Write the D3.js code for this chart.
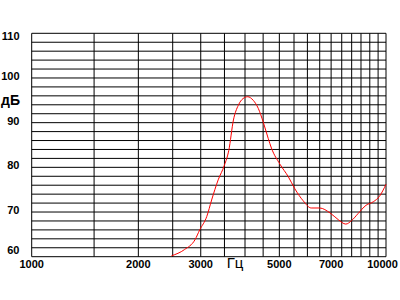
<!DOCTYPE html>
<html>
<head>
<meta charset="utf-8">
<script src="https://cdn.jsdelivr.net/npm/d3@7"></script>
<style>
  html, body { margin: 0; padding: 0; background: #fff; }
  svg { display: block; }
</style>
</head>
<body>
<svg id="chart" width="400" height="300"></svg>
<script>
// Frequency response
const freqs = [2480, 2700, 2890, 2980, 3120, 3220, 3360, 3500, 3600, 3710, 3830, 3950, 4070, 4220, 4360, 4500, 4650, 4750,
    5020, 5300, 5530, 5840, 6150, 6500, 6950, 7330, 7700, 8000, 8350, 8780, 9210, 9580, 10000];
const levels = [60.2, 61.6, 63.8, 66.0, 69.0, 72.7, 77.2, 80.5, 83.8, 90.6, 93.9, 95.4, 95.8, 95.0, 93.2, 90.2, 86.5, 84.3,
    80.7, 77.9, 75.2, 72.5, 70.9, 70.9, 69.8, 68.3, 67.3, 68.1, 69.7, 71.5, 72.3, 73.5, 76.2];

const xTickLabels = [1000, 2000, 3000, 5000, 7000, 10000];
const yTickLabels = [60, 70, 80, 90, 100, 110];
const xGrid = d3.range(1000, 10001, 500);
const yGrid = d3.range(60, 111, 2);

const svg = d3.select('#chart');
const margin = { top: 33.3, right: 14, bottom: 43.3, left: 31.7 };
const width = 400 - margin.left - margin.right;
const height = 300 - margin.top - margin.bottom;

const x = d3.scaleLog().domain([1000, 10000]).range([margin.left, margin.left + width]);
const y = d3.scaleLinear().domain([60, 110]).range([margin.top + height, margin.top]);

// Grid
svg.append('g')
    .selectAll('line')
    .data(yGrid)
    .join('line')
    .attr('x1', x(1000)).attr('x2', x(10000))
    .attr('y1', d => y(d)).attr('y2', d => y(d))
    .attr('stroke', '#000').attr('stroke-width', 1);

svg.append('g')
    .selectAll('line')
    .data(xGrid)
    .join('line')
    .attr('x1', d => x(d)).attr('x2', d => x(d))
    .attr('y1', y(60)).attr('y2', y(110))
    .attr('stroke', '#000').attr('stroke-width', 1);

// Y labels (kept inside the plot height)
svg.append('g')
    .selectAll('text')
    .data(yTickLabels)
    .join('text')
    .attr('x', 19.5)
    .attr('y', d => Math.max(36, Math.min(250, y(d) - 2)) + 4)
    .attr('text-anchor', 'end')
    .attr('font-family', 'Liberation Sans, Arial, sans-serif')
    .attr('font-weight', 'bold')
    .attr('font-size', '11px')
    .text(d => d);

svg.append('text')
    .attr('x', 20)
    .attr('y', 105)
    .attr('text-anchor', 'end')
    .attr('font-family', 'Liberation Sans, Arial, sans-serif')
    .attr('font-weight', 'bold')
    .attr('font-size', '14px')
    .text('дБ');

// X labels
svg.append('g')
    .selectAll('text')
    .data(xTickLabels)
    .join('text')
    .attr('x', d => Math.min(398 - 15.5, x(d)))
    .attr('y', 268)
    .attr('text-anchor', 'middle')
    .attr('font-family', 'Liberation Sans, Arial, sans-serif')
    .attr('font-weight', 'bold')
    .attr('font-size', '11px')
    .text(d => d);

svg.append('text')
    .attr('x', x(3750))
    .attr('y', 268)
    .attr('text-anchor', 'middle')
    .attr('font-family', 'Liberation Sans, Arial, sans-serif')
    .attr('font-size', '15px')
    .text('Гц');

// Response curve
const line = d3.line()
    .x(d => x(d[0]))
    .y(d => y(d[1]))
    .curve(d3.curveMonotoneX);

svg.append('path')
    .datum(d3.zip(freqs, levels))
    .attr('fill', 'none')
    .attr('stroke', '#ff0000')
    .attr('stroke-width', 1)
    .attr('d', line);
</script>
</body>
</html>
